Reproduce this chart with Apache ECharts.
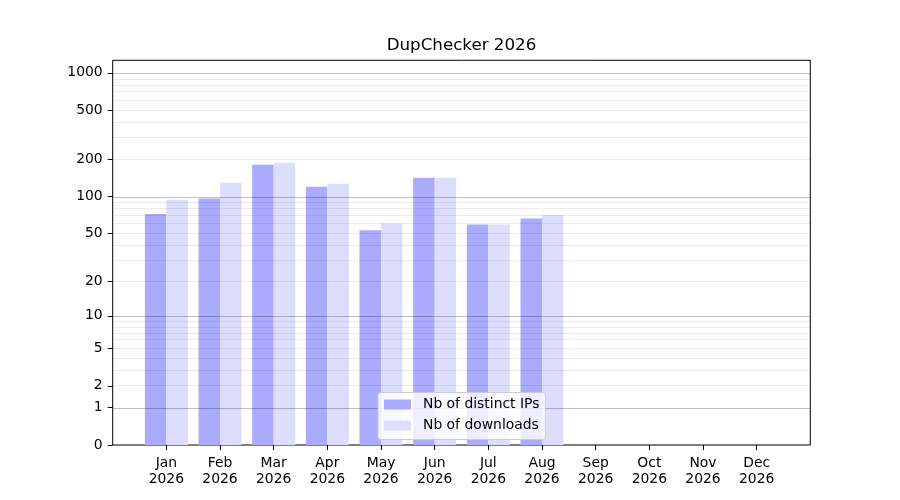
<!DOCTYPE html>
<html>
<head>
<meta charset="utf-8">
<title>DupChecker 2026</title>
<script src="https://cdn.jsdelivr.net/npm/echarts@6/dist/echarts.min.js"></script>
<style>
    html, body { margin: 0; padding: 0; background: #fff; }
    #chart { width: 900px; height: 500px; }
</style>
</head>
<body>
<div id="chart"></div>
<script>
// data
const months = ['Jan', 'Feb', 'Mar', 'Apr', 'May', 'Jun', 'Jul', 'Aug', 'Sep', 'Oct', 'Nov', 'Dec'];
const year = '2026';
const distinctIps = [72, 96, 181, 120, 53, 142, 59, 66, null, null, null, null];
const downloads = [94, 129, 188, 127, 60, 142, 59, 71, null, null, null, null];
const yTickLabels = [0, 1, 2, 5, 10, 20, 50, 100, 200, 500, 1000];
const majorGrid = [1, 10, 100, 1000];
const minorGrid = [2, 3, 4, 5, 6, 7, 8, 9, 20, 30, 40, 50, 60, 70, 80, 90, 200, 300, 400, 500, 600, 700, 800, 900];

(function () {
    const FONT = 'DejaVu Sans';
    // y scale is log10(v + 1)
    const fwd = v => (v == null ? null : Math.log10(v + 1));
    const inv = t => Math.round(Math.pow(10, t) - 1);
    const yMax = 3.1016;

    // pad one empty slot each side so the axis runs from -1 to 12
    const cats = [''].concat(months.map(m => m + '\n' + year), ['']);
    const pad = arr => [null].concat(arr.map(fwd), [null]);

    // semi-transparent grid, drawn over the bars like matplotlib does
    const gridLines = majorGrid.map(v => ({
        yAxis: fwd(v), lineStyle: { color: 'rgba(0,0,0,0.25)', width: 1, type: 'solid' }
    })).concat(minorGrid.map(v => ({
        yAxis: fwd(v), lineStyle: { color: 'rgba(0,0,0,0.075)', width: 1, type: 'solid' }
    })));

    const chart = echarts.init(document.getElementById('chart'), null, { renderer: 'canvas' });
    chart.setOption({
        animation: false,
        textStyle: { fontFamily: FONT },
        title: {
            text: 'DupChecker 2026',
            left: 461.5,
            top: 37.5,
            padding: 0,
            textAlign: 'center',
            textStyle: { fontFamily: FONT, fontSize: 16.7, fontWeight: 'normal', color: '#000' }
        },
        legend: {
            orient: 'vertical',
            left: 378,
            top: 392.5,
            z: 10,
            icon: 'rect',
            itemWidth: 27,
            itemHeight: 10,
            itemGap: 7,
            padding: [5, 6, 7, 6],
            backgroundColor: 'rgba(255,255,255,0.8)',
            borderColor: '#cccccc',
            borderWidth: 1,
            borderRadius: 3,
            textStyle: { fontFamily: FONT, fontSize: 13.9, color: '#000', lineHeight: 14, padding: [0, 0, 0, 7] },
            data: ['Nb of distinct IPs', 'Nb of downloads']
        },
        grid: {
            left: 112.7, right: 89.7, top: 60.3, bottom: 55,
            show: true, borderColor: '#000', borderWidth: 1, backgroundColor: 'transparent'
        },
        xAxis: {
            type: 'category',
            data: cats,
            boundaryGap: false,
            axisLine: { show: false },
            axisTick: {
                length: 5,
                lineStyle: { color: '#000' },
                interval: idx => idx > 0 && idx < cats.length - 1
            },
            axisLabel: {
                interval: 0, margin: 10, color: '#000',
                fontFamily: FONT, fontSize: 13.9, lineHeight: 16
            },
            splitLine: { show: false }
        },
        yAxis: {
            type: 'value',
            min: 0,
            max: yMax,
            axisLine: { show: false },
            axisTick: {
                show: true, length: 5, lineStyle: { color: '#000' },
                customValues: yTickLabels.map(fwd)
            },
            axisLabel: {
                margin: 10, color: '#000', fontFamily: FONT, fontSize: 13.9,
                padding: [2, 0, 0, 0],
                customValues: yTickLabels.map(fwd),
                formatter: v => String(inv(v))
            },
            splitLine: { show: false }
        },
        series: [
            {
                name: 'Nb of distinct IPs',
                type: 'bar',
                data: pad(distinctIps),
                barWidth: 21.5,
                barGap: '0%',
                itemStyle: { color: '#aaaaff' },
                markLine: {
                    silent: true,
                    symbol: 'none',
                    label: { show: false },
                    z: 5,
                    data: gridLines
                }
            },
            {
                name: 'Nb of downloads',
                type: 'bar',
                data: pad(downloads),
                barWidth: 21.5,
                barGap: '0%',
                itemStyle: { color: '#ddddff' }
            }
        ]
    });
})();
</script>
</body>
</html>
